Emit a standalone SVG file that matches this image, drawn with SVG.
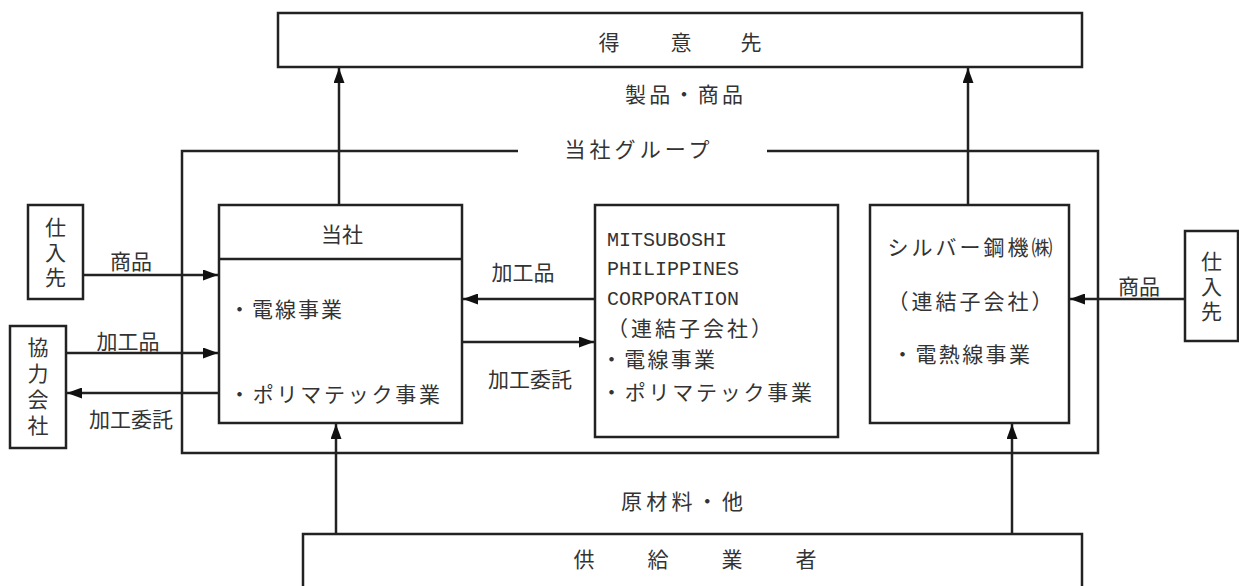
<svg xmlns="http://www.w3.org/2000/svg" width="1239" height="586" viewBox="0 0 1239 586">
<style>
.box{fill:#fff;stroke:#222;stroke-width:2.5}
.ln{fill:none;stroke:#222;stroke-width:2.5}
.jp{font-family:"Noto Sans CJK JP","Noto Sans CJK SC",sans-serif;font-size:21px;fill:#333}
.mid{text-anchor:middle}
.vt{writing-mode:vertical-rl;text-anchor:middle}
.en{font-family:"Liberation Mono",monospace;font-size:20px;fill:#333}
</style>
<defs>
<marker id="ah" markerUnits="userSpaceOnUse" markerWidth="15" markerHeight="11" refX="15" refY="5.5" orient="auto">
<path d="M0,0 L15,5.5 L0,11 z" fill="#111"/>
</marker>
</defs>
<rect width="1239" height="586" fill="#fff"/>

<g id="group-frame">
<path class="ln" d="M518,151 H182 V453 H1098 V151 H767"/>
<text class="jp mid" x="637" y="157" textLength="145">当社グループ</text>
</g>

<g id="customer">
<rect class="box" x="278" y="13" width="804" height="54"/>
<text class="jp mid" x="609 681 751" y="50">得意先</text>
</g>

<g id="company">
<rect class="box" x="219" y="205" width="243" height="218"/>
<line class="ln" x1="219" y1="259" x2="462" y2="259"/>
<text class="jp mid" x="342" y="242">当社</text>
<text class="jp" x="229" y="317" textLength="113">・電線事業</text>
<text class="jp" x="229" y="402" textLength="211">・ポリマテック事業</text>
</g>

<g id="mitsuboshi-philippines">
<rect class="box" x="595" y="205" width="243" height="232"/>
<text class="en" x="607" y="246">MITSUBOSHI</text>
<text class="en" x="607" y="275">PHILIPPINES</text>
<text class="en" x="607" y="305">CORPORATION</text>
<text class="jp" x="607" y="336" textLength="165">（連結子会社）</text>
<text class="jp" x="601" y="367" textLength="114">・電線事業</text>
<text class="jp" x="601" y="400" textLength="211">・ポリマテック事業</text>
</g>

<g id="silver">
<rect class="box" x="870" y="205" width="199" height="218"/>
<text class="jp mid" x="970" y="255" textLength="165">シルバー鋼機㈱</text>
<text class="jp mid" x="970" y="309" textLength="165">（連結子会社）</text>
<text class="jp" x="892" y="362" textLength="138">・電熱線事業</text>
</g>

<g id="supplier-left">
<rect class="box" x="28" y="205" width="55" height="94"/>
<text class="jp vt" x="55.5" y="254" letter-spacing="4">仕入先</text>
</g>

<g id="partner">
<rect class="box" x="10" y="326" width="56" height="122"/>
<text class="jp vt" x="38" y="389" letter-spacing="5">協力会社</text>
</g>

<g id="supplier-right">
<rect class="box" x="1185" y="231" width="53" height="110"/>
<text class="jp vt" x="1211.5" y="288" letter-spacing="4">仕入先</text>
</g>

<g id="vendors">
<rect class="box" x="303" y="534" width="779" height="70"/>
<text class="jp mid" x="584 658 732 806" y="567">供給業者</text>
</g>

<g id="connectors">
<line class="ln" x1="339" y1="205" x2="339" y2="68" marker-end="url(#ah)"/>
<line class="ln" x1="968" y1="205" x2="968" y2="68" marker-end="url(#ah)"/>
<line class="ln" x1="336" y1="534" x2="336" y2="424" marker-end="url(#ah)"/>
<line class="ln" x1="1012" y1="534" x2="1012" y2="424" marker-end="url(#ah)"/>
<line class="ln" x1="83" y1="275" x2="218" y2="275" marker-end="url(#ah)"/>
<line class="ln" x1="66" y1="353" x2="218" y2="353" marker-end="url(#ah)"/>
<line class="ln" x1="219" y1="393" x2="67" y2="393" marker-end="url(#ah)"/>
<line class="ln" x1="595" y1="299" x2="463" y2="299" marker-end="url(#ah)"/>
<line class="ln" x1="462" y1="342" x2="594" y2="342" marker-end="url(#ah)"/>
<line class="ln" x1="1185" y1="299" x2="1070" y2="299" marker-end="url(#ah)"/>
<text class="jp mid" x="684" y="102" textLength="118">製品・商品</text>
<text class="jp mid" x="682" y="509" textLength="122">原材料・他</text>
<text class="jp mid" x="131" y="269">商品</text>
<text class="jp mid" x="128" y="349">加工品</text>
<text class="jp mid" x="131" y="427">加工委託</text>
<text class="jp mid" x="523" y="280">加工品</text>
<text class="jp mid" x="530" y="387">加工委託</text>
<text class="jp mid" x="1139" y="294">商品</text>
</g>
</svg>
